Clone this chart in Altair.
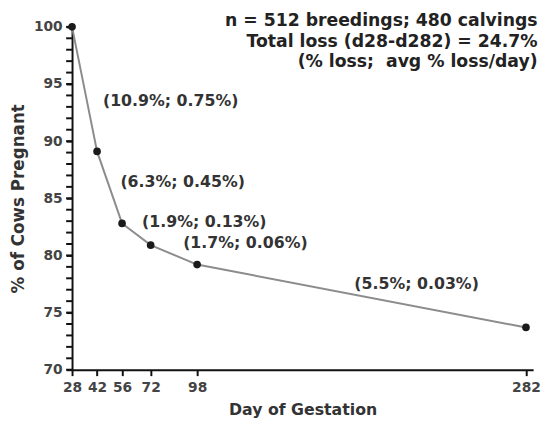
import altair as alt
import pandas as pd

days = [28, 42, 56, 72, 98, 282]
pct = [100, 89.1, 82.8, 80.9, 79.2, 73.7]

ann_text = ["(10.9%; 0.75%)", "(6.3%; 0.45%)", "(1.9%; 0.13%)", "(1.7%; 0.06%)", "(5.5%; 0.03%)"]
ann_x = [83.2, 89.9, 102, 125, 220.8]
ann_y = [93.5, 86.4, 82.9, 81.1, 77.5]

head_text = ["n = 512 breedings; 480 calvings", "Total loss (d28-d282) = 24.7%", "(% loss;\u00a0 avg % loss/day)"]
head_x = [288.5, 288.5, 288.5]
head_y = [100.47, 98.7, 96.94]

y_major = [70, 75, 80, 85, 90, 95, 100]
y_minor = list(range(70, 101))

df = pd.DataFrame({"day": days, "pct": pct})
ann = pd.DataFrame({"t": ann_text, "day": ann_x, "pct": ann_y})
head = pd.DataFrame({"t": head_text, "day": head_x, "pct": head_y})
minor = pd.DataFrame({"v": y_minor})

FONT = "DejaVu Sans"
YTITLE = "% of Cows Pregnant"

xs = alt.Scale(domain=[28, 286], nice=False, zero=False)
ys = alt.Scale(domain=[70, 100], nice=False, zero=False)

xenc = alt.X("day:Q", scale=xs, axis=alt.Axis(
    title="Day of Gestation", values=days, tickCount=len(days), grid=False,
    domainColor="#111", domainWidth=2,
    tickColor="#111", tickWidth=2, tickSize=6, labelFont=FONT, labelFontWeight="bold",
    labelFontSize=14, labelColor="#444", titleFont=FONT, titleFontWeight="bold",
    titleFontSize=16, titleColor="#333", titlePadding=7, labelPadding=5,
    labelOverlap=False, labelFlush=False))
yenc = alt.Y("pct:Q", scale=ys, title=YTITLE, axis=alt.Axis(
    values=y_major, tickCount=len(y_major), grid=False,
    domainColor="#111", domainWidth=2,
    tickColor="#111", tickWidth=2, tickSize=6, labelFont=FONT, labelFontWeight="bold",
    labelFontSize=14, labelColor="#444", titleFont=FONT, titleFontWeight="bold",
    titleFontSize=17, titleColor="#333", titlePadding=6, labelPadding=4,
    labelOverlap=False, labelFlush=False))

line = alt.Chart(df).mark_line(color="#8c8c8c", strokeWidth=2).encode(x=xenc, y=yenc)
ticks = alt.Chart(minor).mark_tick(orient="horizontal", size=6, thickness=2, color="#111",
                                   xOffset=-3, opacity=1).encode(
    x=alt.datum(28), y=alt.Y("v:Q", title=YTITLE))
pts = alt.Chart(df).mark_circle(color="#1a1a1a", size=60, opacity=1).encode(x="day:Q", y="pct:Q")
labels = alt.Chart(ann).mark_text(font=FONT, fontWeight="bold", fontSize=16, color="#333").encode(
    x="day:Q", y="pct:Q", text="t:N")
heads = alt.Chart(head).mark_text(font=FONT, fontWeight="bold", fontSize=17.5, color="#222",
                                  align="right").encode(x="day:Q", y="pct:Q", text="t:N")

chart = (line + ticks + pts + labels + heads).properties(
    width=468, height=348,
    autosize=alt.AutoSizeParams(type="none"),
    padding={"left": 65, "top": 16, "right": 8, "bottom": 56},
).configure_view(stroke=None)

chart.save("out.html", embed_options={"renderer": "svg", "actions": False})
